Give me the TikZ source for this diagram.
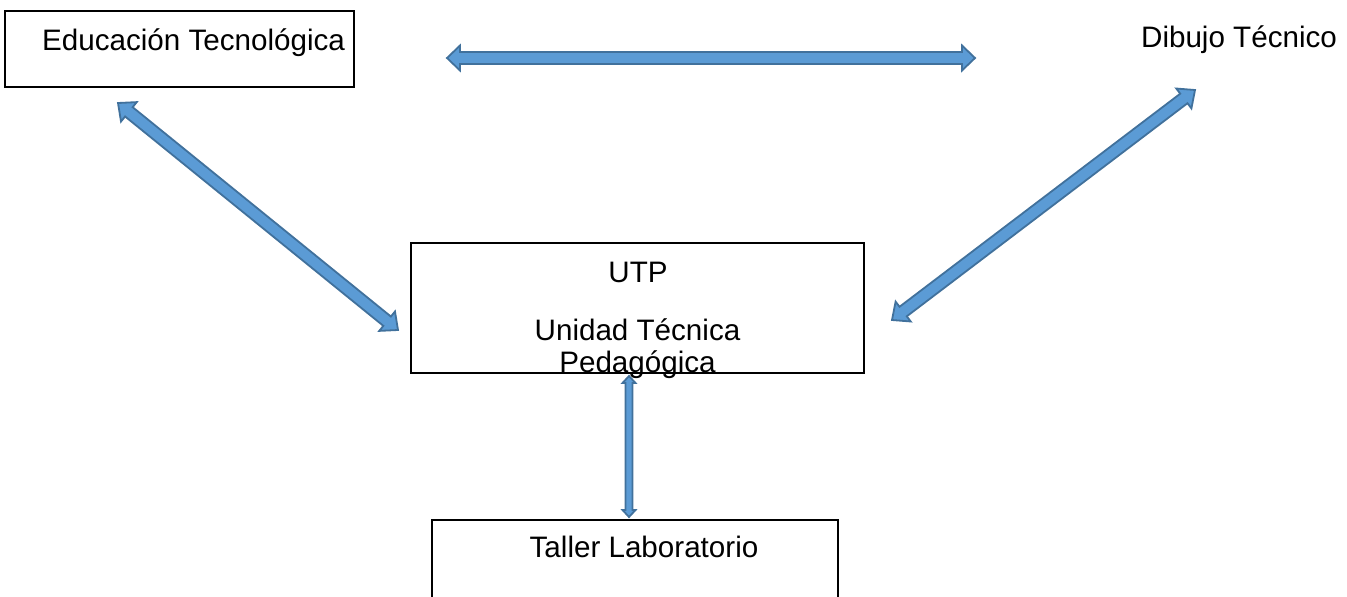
\documentclass[tikz,border=0pt]{standalone}
\usepackage{fontspec}
\setmainfont{Liberation Sans}
\usetikzlibrary{calc}
\definecolor{arrfill}{HTML}{5B9BD5}
\definecolor{arrline}{HTML}{41719C}
\tikzset{
  box/.style={draw=black, line width=0.75pt, rectangle, inner sep=0pt, outer sep=0pt},
  lbl/.style={anchor=base, inner sep=0pt, font=\fontsize{14.8}{16}\selectfont},
  blockarrow/.style={fill=arrfill, draw=arrline, line width=0.9pt, line join=miter},
}
% #1 start, #2 end, #3 shaft half width, #4 head half width, #5 head length
\newcommand\myblockarrow[5]{%
  \coordinate (ba1) at ($(#1)!#5!(#2)$);
  \coordinate (ba2) at ($(#2)!#5!(#1)$);
  \draw[blockarrow] (#1) -- ($(ba1)!#4!90:(#2)$) -- ($(ba1)!#3!90:(#2)$)
    -- ($(ba2)!#3!-90:(#1)$) -- ($(ba2)!#4!-90:(#1)$) -- (#2)
    -- ($(ba2)!#4!90:(#1)$) -- ($(ba2)!#3!90:(#1)$)
    -- ($(ba1)!#3!-90:(#2)$) -- ($(ba1)!#4!-90:(#2)$) -- cycle;}
\begin{document}
\begin{tikzpicture}[x=0.5pt, y=-0.5pt]
\useasboundingbox (0,0) rectangle (1347,596);
\clip (0,0) rectangle (1347,596);
% boxes
\node[box, minimum width=174.5pt, minimum height=38pt] (edu) at (179.5,49) {};
\node[box, minimum width=226.5pt, minimum height=65pt] (utp) at (637.5,308) {};
\node[box, minimum width=203pt, minimum height=60pt] (tal) at (635,580) {};
% texts
\node[lbl] (tedu) at (193.5,50) {Educación Tecnológica};
\node[lbl] (tdib) at (1239,47) {Dibujo Técnico};
\node[lbl] (tutp) at (638,282) {UTP};
\node[lbl] (tuni) at (637.5,340) {Unidad Técnica};
\node[lbl] (tped) at (637.5,372) {Pedagógica};
\node[lbl] (ttal) at (644,557) {Taller Laboratorio};
% arrow ends
\coordinate (h1) at (447,58);
\coordinate (h2) at (975,58);
\coordinate (l1) at (118,103);
\coordinate (l2) at (398,330);
\coordinate (r1) at (1195,90);
\coordinate (r2) at (892,320);
\coordinate (v1) at (629,376);
\coordinate (v2) at (629,517);
\myblockarrow{h1}{h2}{3pt}{6.25pt}{6.5pt}
\myblockarrow{l1}{l2}{3pt}{6.25pt}{7pt}
\myblockarrow{r1}{r2}{3pt}{6.25pt}{7pt}
\myblockarrow{v1}{v2}{1.75pt}{3.25pt}{3.5pt}
\end{tikzpicture}
\end{document}
